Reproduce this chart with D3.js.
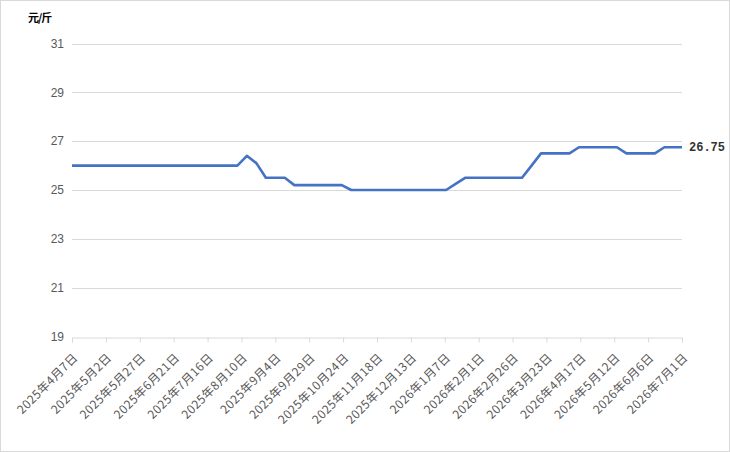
<!DOCTYPE html>
<html><head><meta charset="utf-8">
<script src="https://cdn.jsdelivr.net/npm/d3@7"></script>
<style>
html,body{margin:0;padding:0;background:#fff;}
svg{display:block;}
</style></head>
<body>
<svg id="chart" width="730" height="452"></svg>
<script>
// ---- data ----
const dates = [
 "2025-04-07","2025-04-10","2025-04-17","2025-04-24","2025-05-01","2025-05-08","2025-05-15","2025-05-22","2025-05-29",
 "2025-06-05","2025-06-12","2025-06-19","2025-06-26","2025-07-03","2025-07-10","2025-07-17","2025-07-24","2025-07-31",
 "2025-08-07","2025-08-14","2025-08-21","2025-08-28","2025-09-04","2025-09-11","2025-09-18","2025-09-25",
 "2025-10-02","2025-10-09","2025-10-16","2025-10-23","2025-10-30","2025-11-06","2025-11-13","2025-11-20","2025-11-27",
 "2025-12-04","2025-12-11","2025-12-18","2025-12-25","2026-01-01","2026-01-08","2026-01-15","2026-01-22","2026-01-29",
 "2026-02-05","2026-02-12","2026-02-19","2026-02-26","2026-03-05","2026-03-12","2026-03-19","2026-03-26",
 "2026-04-02","2026-04-09","2026-04-16","2026-04-23","2026-04-30","2026-05-07","2026-05-14","2026-05-21","2026-05-28",
 "2026-06-04","2026-06-11","2026-06-18","2026-06-25","2026-07-01"
];
const prices = [
 26,26,26,26,26,26,26,26,26,
 26,26,26,26,26,26,26,26,26,
 26,26.4,26.1,25.5,25.5,25.5,25.2,25.2,
 25.2,25.2,25.2,25.2,25,25,25,25,25,
 25,25,25,25,25,25,25.25,25.5,25.5,
 25.5,25.5,25.5,25.5,25.5,26,26.5,26.5,
 26.5,26.5,26.75,26.75,26.75,26.75,26.75,26.5,26.5,
 26.5,26.5,26.75,26.75,26.75
];
const xTickDates = [
 "2025-04-07","2025-05-02","2025-05-27","2025-06-21","2025-07-16","2025-08-10","2025-09-04","2025-09-29",
 "2025-10-24","2025-11-18","2025-12-13","2026-01-07","2026-02-01","2026-02-26","2026-03-23","2026-04-17",
 "2026-05-12","2026-06-06","2026-07-01"
];
const yTicks = [19,21,23,25,27,29,31];
const unitLabel = "元/斤";
const lastLabel = "26.75";

// ---- drawing ----
const parse = d3.timeParse("%Y-%m-%d");
const data = dates.map((d,i)=>({date:parse(d), value:prices[i]}));
const svg = d3.select("#chart");

svg.append("rect").attr("x",0.5).attr("y",0.5).attr("width",729).attr("height",451)
  .attr("fill","#fff").attr("stroke","#d9d9d9");

const x = d3.scaleTime().domain([parse("2025-04-07"), parse("2026-07-01")]).range([72, 682]);
const y = d3.scaleLinear().domain([19,31]).range([336.5, 43.5]);

// gridlines
svg.append("g").selectAll("line").data(yTicks.filter(t=>t!==19)).join("line")
  .attr("x1",72).attr("x2",682).attr("y1",d=>Math.round(y(d))+0.5).attr("y2",d=>Math.round(y(d))+0.5)
  .attr("stroke","#d9d9d9").attr("stroke-width",1);

// y labels
svg.append("g").selectAll("text").data(yTicks).join("text")
  .attr("x",64).attr("y",d=>y(d)).attr("dy","0.35em").attr("text-anchor","end")
  .attr("fill","#595959").attr("font-family","Liberation Sans, Arial, sans-serif").attr("font-size",12)
  .text(d=>d);

// x axis
const fmt = d3.timeFormat("%Y年%-m月%-d日");
const xAxis = d3.axisBottom(x).tickValues(xTickDates.map(parse)).tickSize(5).tickFormat(fmt);
const gx = svg.append("g").attr("transform",`translate(0,${Math.round(y(19))+0.5})`).call(xAxis);
gx.select(".domain").attr("stroke","#d9d9d9");
gx.selectAll(".tick line").attr("stroke","#d9d9d9");
gx.selectAll(".tick text")
  .attr("fill","#595959").attr("font-family","Noto Sans CJK SC, sans-serif").attr("font-size",12)
  .attr("letter-spacing",0.4)
  .attr("text-anchor","end").attr("x",0).attr("y",0).attr("dy",0)
  .attr("transform","translate(6,21) rotate(-45)");

// line
const line = d3.line().x(d=>x(d.date)).y(d=>y(d.value));
svg.append("path").datum(data).attr("d",line).attr("fill","none")
  .attr("stroke","#4472C4").attr("stroke-width",2.6).attr("stroke-linejoin","round");

// end label
const last = data[data.length-1];
svg.append("text").attr("x",x(last.date)+7).attr("y",y(last.value)).attr("dy","0.35em")
  .attr("fill","#333").attr("font-weight","bold").attr("font-size",12)
  .attr("font-family","Liberation Mono, DejaVu Sans Mono, monospace").text(lastLabel);

// unit label
svg.append("text").attr("x",28).attr("y",22).attr("fill","#000").attr("font-weight","bold")
  .attr("font-size",11).attr("font-family","Noto Sans CJK SC, sans-serif").attr("letter-spacing",-1)
  .text(unitLabel);
</script>
</body></html>
